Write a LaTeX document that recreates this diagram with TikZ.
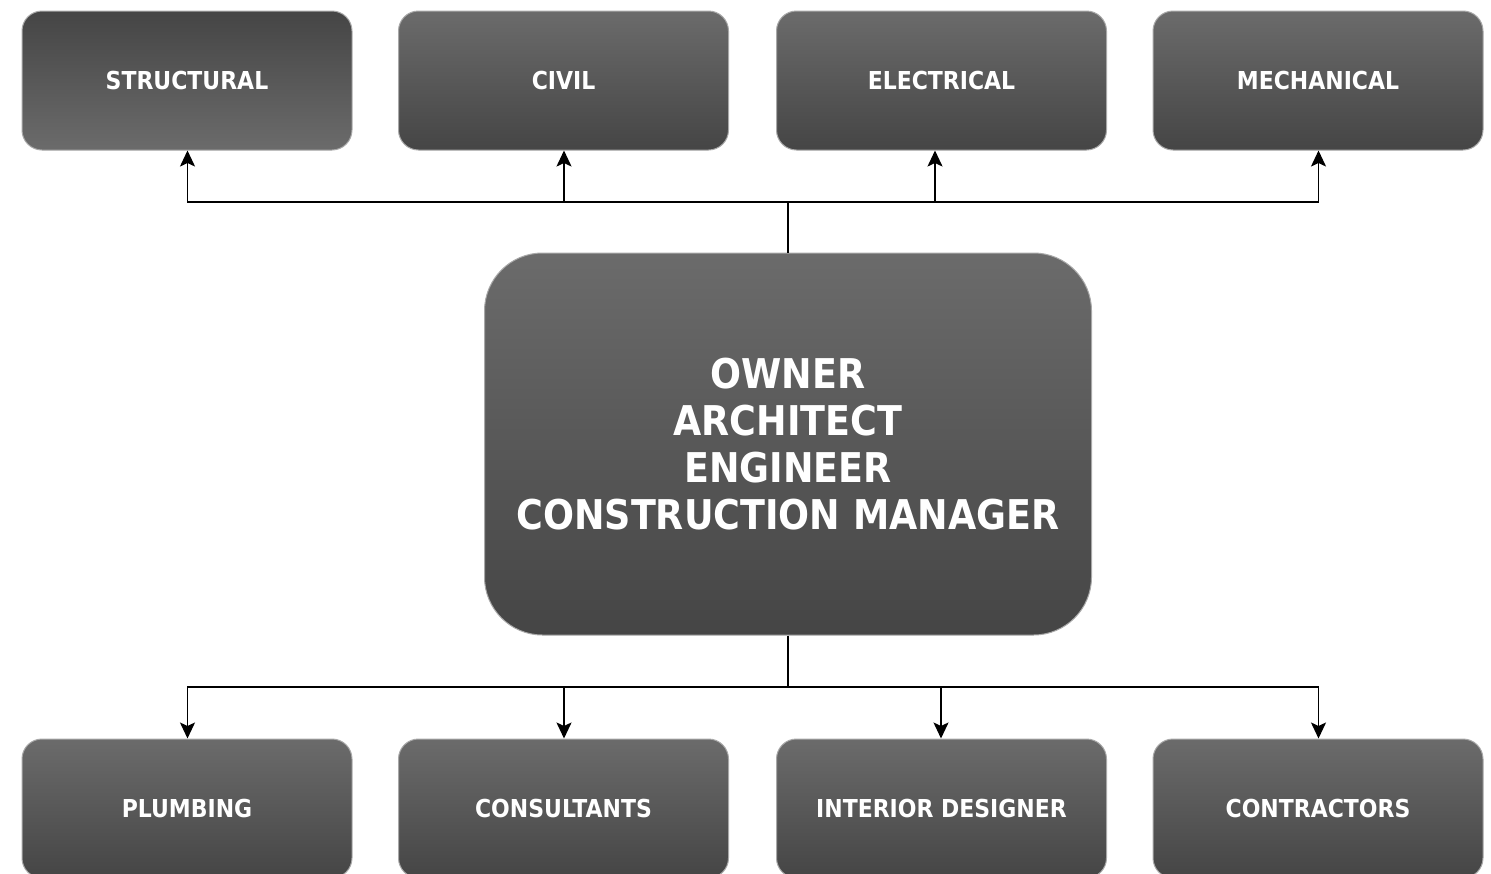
\documentclass[tikz,border=0pt]{standalone}
\usepackage{fontspec}
\setmainfont{DejaVu Sans}[FakeStretch=0.89]
\usetikzlibrary{arrows.meta}
\definecolor{gL}{HTML}{6B6B6B}
\definecolor{gD}{HTML}{454545}
\definecolor{edge}{HTML}{A8A8A8}
\tikzset{
  tipstyle/.tip={Stealth[length=16pt,width=15pt,inset=3.5pt]}
}
\begin{document}
\begin{tikzpicture}[x=1pt,y=-1pt,
  box/.style={rounded corners=20pt, draw=edge, line width=1pt,
    minimum width=330pt, minimum height=139pt, inner sep=0pt,
    text=white, font=\fontsize{24.7}{28}\selectfont\bfseries,
    top color=gL, bottom color=gD},
  boxrev/.style={box, top color=gD, bottom color=gL},
  bigbox/.style={rounded corners=58pt, draw=edge, line width=1pt,
    minimum width=607pt, minimum height=382pt, inner sep=0pt,
    text=white, align=center, font=\fontsize{41}{47}\selectfont\bfseries,
    top color=gL, bottom color=gD},
  conn/.style={line width=1.8pt, black},
  arr/.style={conn, -tipstyle}]
\useasboundingbox (0,0) rectangle (1491,873);
\clip (0,0) rectangle (1491,873);
\fill[white] (0,0) rectangle (1491,873);

\node[boxrev] (structural) at (187,80.5) {STRUCTURAL};
\node[box] (civil) at (563.5,80.5) {CIVIL};
\node[box] (electrical) at (941.5,80.5) {ELECTRICAL};
\node[box] (mechanical) at (1318,80.5) {MECHANICAL};

\node[bigbox] (owner) at (788,444) {OWNER\\ARCHITECT\\ENGINEER\\CONSTRUCTION MANAGER};

\node[box] (plumbing) at (187,808.5) {PLUMBING};
\node[box] (consultants) at (563.5,808.5) {CONSULTANTS};
\node[box] (interior) at (941.5,808.5) {INTERIOR DESIGNER};
\node[box] (contractors) at (1318,808.5) {CONTRACTORS};

\coordinate (topbus) at (788,202);
\coordinate (botbus) at (788,687);

\draw[conn] (owner.north) -- (topbus);
\draw[arr] (topbus) -| ([xshift=0.5pt]structural.south);
\draw[arr] (topbus) -| ([xshift=0.5pt]civil.south);
\draw[arr] (topbus) -| ([xshift=-6.5pt]electrical.south);
\draw[arr] (topbus) -| ([xshift=0.5pt]mechanical.south);

\draw[conn] (owner.south) -- (botbus);
\draw[arr] (botbus) -| ([xshift=0.5pt]plumbing.north);
\draw[arr] (botbus) -| ([xshift=0.5pt]consultants.north);
\draw[arr] (botbus) -| ([xshift=-0.5pt]interior.north);
\draw[arr] (botbus) -| ([xshift=0.5pt]contractors.north);
\end{tikzpicture}
\end{document}
